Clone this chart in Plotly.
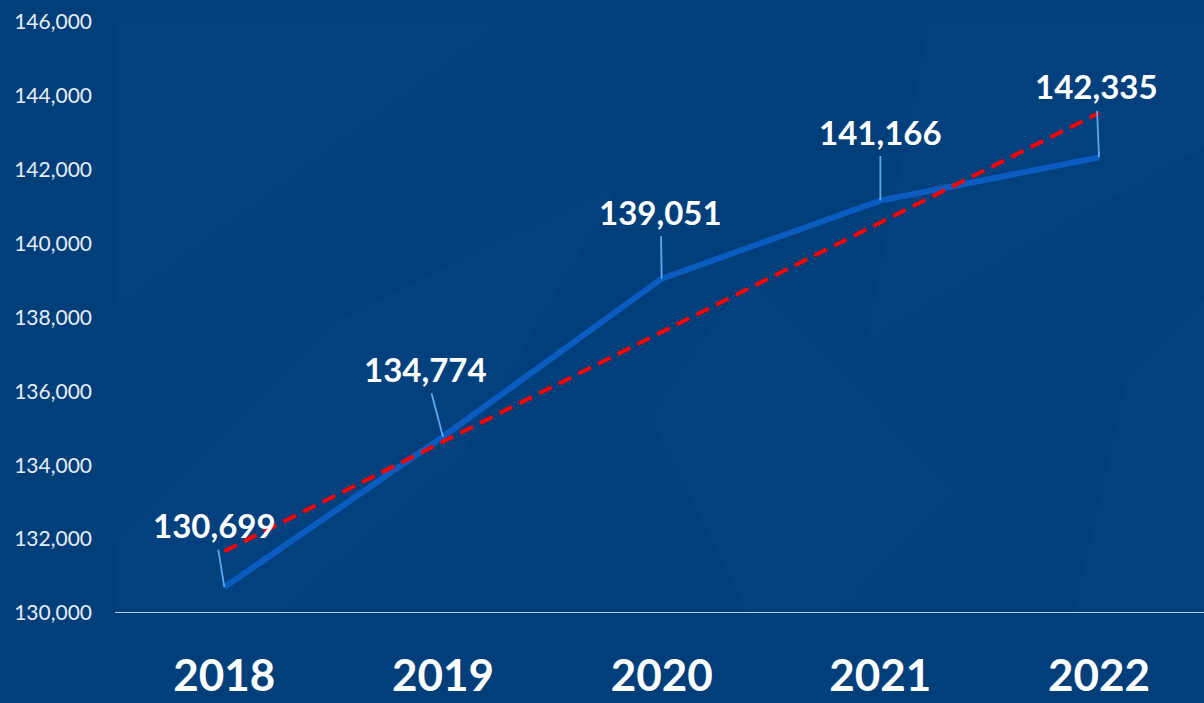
import numpy as np
import plotly.graph_objects as go

years = ["2018", "2019", "2020", "2021", "2022"]
values = [130699, 134774, 139051, 141166, 142335]
label_text = ["130,699", "134,774", "139,051", "141,166", "142,335"]
y_ticks = [130000, 132000, 134000, 136000, 138000, 140000, 142000, 144000, 146000]

# linear trend (least squares) of the series
xi = np.arange(len(values))
slope, intercept = np.polyfit(xi, values, 1)
trend = [float(v) for v in (slope * xi + intercept)]

label_dx = [-10, -18, -1, 0, -3]
label_dy = [-62, -68, -67, -69, -71]

bg = "#003f7a"
fig = go.Figure()
fig.add_trace(go.Scatter(x=years, y=values, mode="lines",
                         line=dict(color="#0b5cc0", width=6),
                         hoverinfo="skip", showlegend=False))
fig.add_trace(go.Scatter(x=years, y=trend, mode="lines",
                         line=dict(color="#ff0000", width=4, dash="14px,8px"),
                         hoverinfo="skip", showlegend=False))

for i, (v, t, dx, dy) in enumerate(zip(values, label_text, label_dx, label_dy)):
    fig.add_annotation(x=i, y=v, xref="x", yref="y", text="<b>%s</b>" % t, showarrow=True,
                       ax=dx, ay=dy, axref="pixel", ayref="pixel", arrowhead=0, arrowwidth=1.8,
                       arrowcolor="#5aaaee", borderpad=4,
                       font=dict(family="Lato", size=33, color="white"))

# faint decorative facets of the slide background (paper pixel paths)
W, H = 1204.0, 703.0
facets = [
    [(0, 0), (430, 0), (0, 340)],
    [(0, 703), (0, 620), (250, 352), (560, 190), (380, 520), (180, 703)],
    [(900, 0), (1204, 0), (1204, 150), (1000, 270), (830, 380)],
    [(590, 470), (700, 300), (930, 560), (800, 703), (700, 703)],
    [(1060, 703), (1120, 420), (1204, 330), (1204, 703)],
]
shapes = []
for poly in facets:
    path = "M " + " L ".join("%.4f,%.4f" % (px / W, 1 - py / H) for px, py in poly) + " Z"
    shapes.append(dict(type="path", path=path, xref="paper", yref="paper",
                       fillcolor="rgba(40,110,190,0.06)", line=dict(width=0), layer="below"))

fig.update_layout(
    width=1204, height=703,
    paper_bgcolor=bg, plot_bgcolor=bg,
    margin=dict(l=115, r=0, t=22, b=90),
    showlegend=False,
    shapes=shapes,
    xaxis=dict(type="category", range=[-0.5, 4.48], showgrid=False, zeroline=False,
               showline=False, ticks="", ticklabelstandoff=33, automargin=False,
               tickfont=dict(family="Lato", size=44, color="white", weight="bold")),
    yaxis=dict(range=[130000, 146000], tickvals=y_ticks, tickformat=",", showgrid=False,
               zeroline=False, showline=False, ticks="", ticklabelstandoff=22, automargin=False,
               tickfont=dict(family="Lato", size=21, color="#e6edf5")),
)
fig.add_shape(type="line", xref="paper", yref="y", x0=0, x1=1, y0=130000, y1=130000,
              line=dict(color="#a9cbea", width=2))

fig.write_html("out.html", config={"displayModeBar": False},
               post_script="document.body.style.margin='0';")
